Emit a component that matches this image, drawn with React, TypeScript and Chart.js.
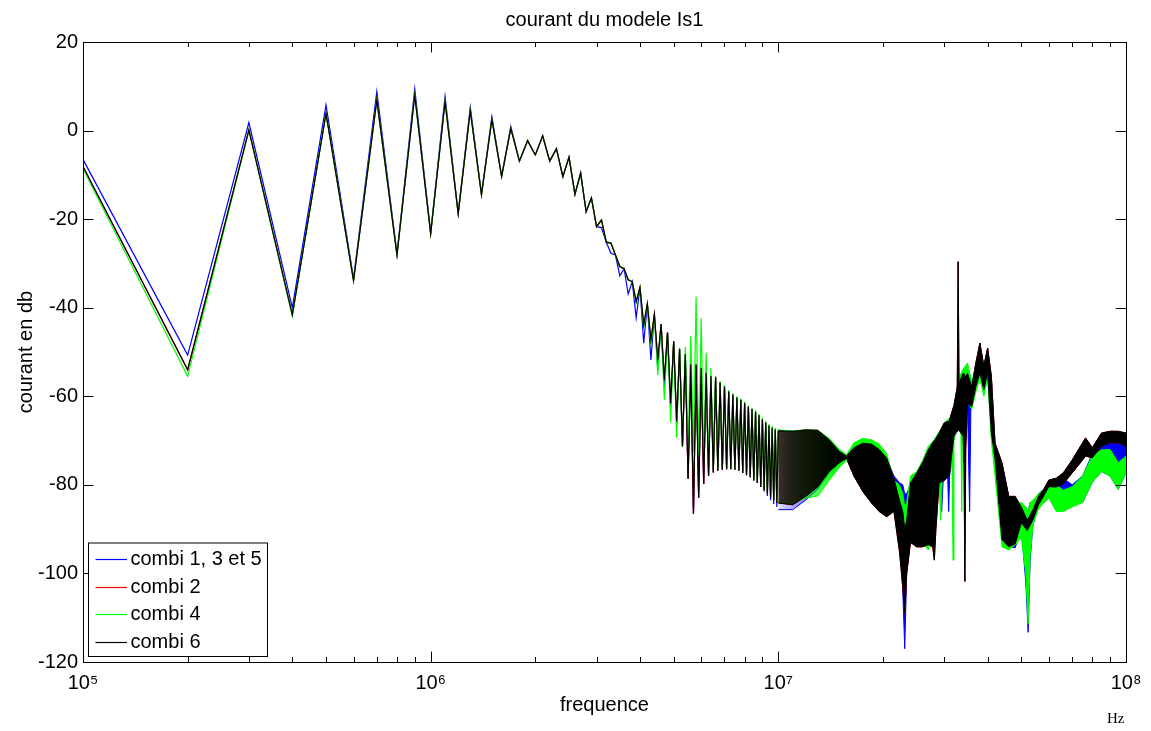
import React, { useEffect, useRef } from 'react';
import { Chart, registerables } from 'chart.js';

Chart.register(...registerables);

const FONT = '"Liberation Sans", Arial, Helvetica, sans-serif';

// 100 kHz measurement grid, 0.1 MHz .. 10 MHz (individually visible points)
const lowFreqHz = Array.from({ length: 100 }, (_, i) => (i + 1) * 1e5);

// combi 6 (black) – values in dB at 0.1, 0.2, ... 10 MHz
const combi6Low = [
  -8.1, -54.0, 0.1, -41.6, 3.9, -33.9, 6.9, -28.1, 8.0, -23.3,
  6.5, -18.8, 4.5, -14.5, 2.5, -10.4, 0.5, -6.9, -2.3, -5.5,
  -1.2, -6.9, -4.1, -10.4, -6.0, -14.4, -9.6, -18.3, -15.2, -21.7,
  -20.2, -25.2, -25.4, -28.1, -30.7, -31.2, -33.7, -34.1, -38.6, -35.4,
  -43.9, -39.1, -47.3, -41.5, -51.8, -43.7, -56.3, -45.6, -61.6, -47.6,
  -65.7, -49.3, -71.3, -50.5, -78.6, -52.8, -86.5, -52.8, -82.9, -53.6,
  -79.8, -54.7, -78.0, -55.5, -77.2, -55.7, -76.8, -56.9, -76.6, -57.8,
  -76.5, -58.9, -76.5, -59.6, -76.6, -60.3, -76.8, -60.8, -77.3, -61.5,
  -77.8, -62.3, -78.3, -62.9, -79.0, -63.5, -79.6, -64.3, -80.5, -65.2,
  -81.2, -65.9, -82.0, -66.6, -82.8, -67.1, -83.5, -67.5, -84.1, -67.8,
];

// combi 2 (red) – coincides with combi 6 everywhere in the picture
const combi2Low = [
  -8.1, -54.0, 0.1, -41.6, 3.9, -33.9, 6.9, -28.1, 8.0, -23.3,
  6.5, -18.8, 4.5, -14.5, 2.5, -10.4, 0.5, -6.9, -2.3, -5.5,
  -1.2, -6.9, -4.1, -10.4, -6.0, -14.4, -9.6, -18.3, -15.2, -21.7,
  -20.2, -25.2, -25.4, -28.1, -30.7, -31.2, -33.7, -34.1, -38.6, -35.4,
  -43.9, -39.1, -47.3, -41.5, -51.8, -43.7, -56.3, -45.6, -61.6, -47.6,
  -65.7, -49.3, -71.3, -50.5, -78.6, -52.8, -86.5, -52.8, -82.9, -53.6,
  -79.8, -54.7, -78.0, -55.5, -77.2, -55.7, -76.8, -56.9, -76.6, -57.8,
  -76.5, -58.9, -76.5, -59.6, -76.6, -60.3, -76.8, -60.8, -77.3, -61.5,
  -77.8, -62.3, -78.3, -62.9, -79.0, -63.5, -79.6, -64.3, -80.5, -65.2,
  -81.2, -65.9, -82.0, -66.6, -82.8, -67.1, -83.5, -67.5, -84.1, -67.8,
];

// combi 4 (green)
const combi4Low = [
  -8.6, -55.5, 0.1, -41.9, 3.9, -33.9, 6.9, -28.1, 8.0, -23.3,
  6.5, -18.8, 4.5, -14.5, 2.5, -10.4, 0.5, -6.9, -2.3, -5.5,
  -1.2, -6.9, -4.1, -10.4, -6.0, -14.4, -9.6, -18.3, -15.2, -21.7,
  -20.2, -25.2, -25.4, -28.1, -30.7, -31.2, -33.7, -34.1, -38.9, -35.4,
  -44.6, -39.1, -48.5, -41.5, -55.2, -43.7, -60.8, -45.6, -65.9, -47.6,
  -69.4, -49.0, -71.5, -48.8, -71.5, -46.4, -72.5, -37.5, -73.5, -42.3,
  -75.0, -50.2, -76.0, -53.6, -76.5, -55.4, -76.6, -56.6, -76.4, -57.5,
  -76.3, -58.6, -76.3, -59.3, -76.4, -60.0, -76.6, -60.5, -77.1, -61.2,
  -77.6, -62.0, -78.1, -62.6, -78.8, -63.1, -79.4, -63.9, -80.3, -64.8,
  -81.0, -65.5, -81.8, -66.2, -82.6, -66.7, -83.3, -67.1, -83.9, -67.4,
];

// combi 1, 3 et 5 (blue)
const combi135Low = [
  -6.5, -50.7, 1.8, -40.0, 5.8, -33.4, 8.8, -27.8, 9.4, -23.0,
  7.7, -18.6, 5.3, -14.3, 3.1, -10.2, 0.9, -6.9, -2.3, -5.5,
  -1.2, -6.9, -4.1, -10.4, -6.0, -14.4, -9.6, -18.3, -15.2, -21.7,
  -21.9, -25.2, -27.7, -28.1, -32.8, -31.2, -36.9, -34.1, -42.3, -35.4,
  -48.0, -39.1, -51.8, -41.5, -54.0, -43.7, -58.0, -45.6, -62.5, -47.6,
  -66.5, -49.3, -71.3, -50.5, -78.6, -52.8, -86.5, -52.8, -82.9, -53.6,
  -79.8, -54.7, -78.0, -55.5, -77.2, -55.7, -76.8, -56.9, -76.6, -57.8,
  -76.5, -58.9, -76.5, -59.6, -76.6, -60.3, -76.8, -60.8, -77.3, -61.5,
  -77.8, -62.3, -78.3, -62.9, -79.0, -63.5, -79.6, -64.3, -80.5, -65.2,
  -81.5, -65.9, -82.5, -66.6, -83.5, -67.1, -84.3, -67.5, -85.0, -67.8,
];

// Above 10 MHz the traces oscillate too densely to separate: upper / lower envelopes (MHz, dB)
const bandFreq6 = [
  10, 11, 12, 13, 14, 15, 15.7, 16.5, 17.5, 18.5, 19.5, 20.5, 21.5, 22.3, 22.8, 23.1, 23.4,
  24, 25, 26, 27, 27.8, 28.1, 28.4, 29, 30, 31, 32, 32.7, 32.9, 33.1, 34, 34.2, 34.4, 34.6,
  35, 36, 37, 38, 39, 40, 41, 42, 44, 46, 48, 50, 52, 54, 56, 58, 60, 63, 66, 70, 75, 76.5,
  80, 85, 90, 95, 100,
];
const combi6BandHi = [
  -67.8, -67.9, -67.6, -67.7, -69.8, -72.5, -73.5, -71.6, -70.6, -70.8, -72.0, -74.0, -78.5,
  -83.5, -86.0, -90.0, -88.0, -79.6, -77.3, -75.0, -72.1, -70.5, -70.0, -69.5, -68.3, -66.0,
  -65.6, -62.0, -58.0, -29.6, -57.0, -54.8, -55.0, -55.5, -55.5, -54.8, -57.8, -52.5, -48.0,
  -53.2, -49.1, -55.6, -70.6, -75.1, -82.6, -82.6, -85.0, -88.0, -85.6, -82.6, -81.0, -78.9,
  -78.5, -77.3, -74.4, -70.5, -69.4, -71.6, -68.3, -67.9, -67.9, -68.3,
];
const combi6BandLo = [
  -84.1, -84.5, -82.6, -80.4, -77.0, -75.0, -74.0, -78.0, -81.5, -84.0, -86.0, -87.2, -86.0,
  -95.0, -103.0, -109.0, -100.0, -93.0, -94.0, -94.0, -93.5, -94.0, -97.0, -90.0, -79.6, -79.0,
  -78.0, -69.0, -67.6, -67.6, -67.6, -69.0, -75.0, -101.8, -72.0, -61.6, -62.3, -57.8, -54.7,
  -58.5, -54.7, -68.3, -74.0, -92.4, -94.0, -93.3, -88.6, -90.3, -87.9, -84.5, -82.5, -80.4,
  -80.5, -79.8, -77.3, -74.4, -73.5, -73.9, -71.3, -70.5, -70.5, -71.3,
];

const bandFreq4 = [
  10, 11, 12, 13, 14, 15, 15.7, 16.5, 17.5, 18.5, 19.5, 20.5, 21.5, 22.3, 22.8, 23.1, 23.4,
  24, 25, 26, 27, 28, 29, 29.3, 29.6, 30, 31, 31.6, 31.8, 32.0, 33, 33.5, 33.7, 33.9,
  35, 36, 37, 38, 39, 40, 41, 42, 44, 46, 48, 50, 51.5, 52.3, 53, 54, 56, 58, 60,
  63, 66, 70, 75, 80, 85, 90, 95, 100,
];
const combi4BandHi = [
  -67.6, -67.8, -67.6, -67.7, -69.5, -72.0, -73.2, -70.5, -69.5, -69.8, -70.8, -73.0, -79.0,
  -80.0, -82.0, -85.0, -84.0, -78.0, -77.0, -74.5, -71.3, -70.0, -68.0, -67.5, -67.0, -66.0,
  -65.0, -64.5, -64.5, -64.0, -56.0, -55.0, -54.5, -54.0, -52.5, -57.0, -53.0, -49.0, -53.5,
  -50.0, -57.0, -72.0, -77.0, -83.0, -84.0, -84.0, -85.0, -86.0, -84.0, -83.5, -82.0, -81.0,
  -80.0, -80.0, -81.2, -80.4, -78.0, -73.5, -72.1, -72.0, -75.0, -73.5,
];
const combi4BandLo = [
  -84.0, -84.0, -83.0, -82.5, -79.0, -76.0, -74.5, -76.5, -79.5, -82.5, -85.3, -86.5, -84.5,
  -88.0, -97.0, -104.0, -96.0, -91.0, -92.0, -93.0, -94.7, -88.0, -79.0, -88.0, -79.0, -78.0,
  -76.0, -76.0, -97.0, -70.0, -66.0, -68.0, -86.0, -66.0, -61.0, -63.0, -59.0, -56.0, -60.0,
  -56.0, -70.0, -78.0, -94.0, -94.7, -93.5, -92.0, -100.0, -111.4, -96.0, -89.0, -85.5, -84.0,
  -83.0, -86.0, -86.0, -85.0, -84.0, -79.4, -77.0, -78.0, -81.0, -77.3,
];

const bandFreq135 = [
  10, 11, 12, 13, 14, 15, 15.7, 16.5, 17.5, 18.5, 19.5, 20.5, 21.5, 22.3, 22.8, 23.1, 23.4,
  24, 25, 26, 27, 28, 29, 29.5, 29.8, 30, 30.7, 30.9, 31.1, 32, 33, 34, 35, 35.5, 35.8,
  36, 37, 38, 39, 40, 41, 42, 44, 46, 48, 50, 51.5, 52.3, 53, 54, 56, 58, 60,
  63, 66, 70, 75, 80, 85, 90, 95, 100,
];
const combi135BandHi = [
  -67.8, -67.9, -67.6, -67.7, -69.8, -72.5, -73.5, -71.6, -70.6, -70.8, -72.0, -74.0, -78.0,
  -79.5, -80.0, -82.0, -82.0, -80.0, -77.5, -75.0, -72.0, -70.0, -68.3, -67.5, -67.0, -66.0,
  -66.0, -66.0, -65.8, -63.0, -55.5, -54.8, -54.0, -55.0, -56.0, -57.8, -52.5, -48.0, -53.2,
  -49.1, -55.6, -70.6, -75.1, -82.6, -84.0, -85.0, -85.0, -86.0, -84.0, -85.0, -82.0, -81.0,
  -79.5, -79.0, -78.5, -80.0, -78.0, -73.0, -70.5, -70.5, -70.0, -71.0,
];
const combi135BandLo = [
  -85.6, -85.6, -83.4, -81.0, -77.5, -75.5, -74.0, -78.0, -81.5, -84.0, -86.0, -87.0, -85.0,
  -90.0, -104.0, -117.0, -100.0, -92.0, -93.0, -93.5, -93.5, -88.0, -79.6, -86.0, -79.0, -79.0,
  -78.0, -86.0, -78.0, -69.0, -67.6, -69.0, -62.0, -86.0, -62.0, -62.3, -58.0, -55.0, -58.5,
  -55.0, -68.3, -74.0, -92.4, -94.0, -94.2, -90.0, -102.0, -113.3, -97.0, -89.0, -85.0, -84.0,
  -83.0, -85.0, -85.0, -84.0, -84.0, -79.4, -77.0, -78.0, -81.0, -77.3,
];

const xTickValues = [1e5, 1e6, 1e7, 1e8];
const xTickLabels = ['10\u2075', '10\u2076', '10\u2077', '10\u2078'];
const xMinorMultipliers = [2, 3, 4, 5, 6, 7, 8, 9];
const yMin = -120;
const yMax = 20;
const yStep = 20;

const legendLabels = ['combi 1, 3 et 5', 'combi 2', 'combi 4', 'combi 6'];
const legendColors = ['#0000ff', '#ff0000', '#00ff00', '#000000'];
const legendRgb = ['0,0,255', '255,0,0', '0,255,0', '0,0,0'];
// band fill opacity where the individual oscillations are still resolvable (10 MHz -> 15 MHz)
const bandFadeHz = [10e6, 15e6];
const bandStartAlpha = [0.12, 0.3, 0.12, 0.72];

const MAJOR_TICK = 10.4;
const MINOR_TICK = 5;

const axesPlugin = {
  id: 'matlabAxes',
  afterDatasetsDraw(chart: any) {
    const { ctx, chartArea: a } = chart;
    const xs = chart.scales.x;
    const ys = chart.scales.y;
    ctx.save();
    ctx.strokeStyle = '#000';
    ctx.lineWidth = 1;
    ctx.beginPath();
    ys.ticks.forEach((t: any) => {
      const py = Math.round(ys.getPixelForValue(t.value)) + 0.5;
      ctx.moveTo(a.left, py);
      ctx.lineTo(a.left + MAJOR_TICK, py);
      ctx.moveTo(a.right, py);
      ctx.lineTo(a.right - MAJOR_TICK, py);
    });
    xTickValues.forEach((dec) => {
      const marks = [{ v: dec, len: MAJOR_TICK }].concat(
        dec < xTickValues[xTickValues.length - 1]
          ? xMinorMultipliers.map((m) => ({ v: dec * m, len: MINOR_TICK }))
          : []
      );
      marks.forEach(({ v, len }) => {
        const px = Math.round(xs.getPixelForValue(v)) + 0.5;
        ctx.moveTo(px, a.bottom);
        ctx.lineTo(px, a.bottom - len);
        ctx.moveTo(px, a.top);
        ctx.lineTo(px, a.top + len);
      });
    });
    ctx.stroke();
    ctx.strokeRect(
      Math.round(a.left) + 0.5,
      Math.round(a.top) + 0.5,
      Math.round(a.right - a.left),
      Math.round(a.bottom - a.top)
    );
    ctx.restore();
  },
};

const legendPlugin = {
  id: 'matlabLegend',
  afterDraw(chart: any) {
    const { ctx, chartArea: a } = chart;
    ctx.save();
    ctx.font = `20px ${FONT}`;
    const maxW = Math.max(...legendLabels.map((l) => ctx.measureText(l).width));
    const boxL = Math.round(a.left) + 5.5;
    const boxB = Math.round(a.bottom) - 5.5;
    const rowH = 27.5;
    const boxH = 16 + rowH * (legendLabels.length - 1) + 15;
    const boxT = boxB - boxH;
    const textX = boxL + 42;
    const boxW = textX + maxW + 6 - boxL;
    ctx.fillStyle = '#fff';
    ctx.fillRect(boxL, boxT, boxW, boxH);
    ctx.strokeStyle = '#000';
    ctx.lineWidth = 1;
    ctx.strokeRect(boxL, boxT, Math.round(boxW), boxH);
    legendLabels.forEach((label, i) => {
      const cy = Math.round(boxT + 16 + i * rowH) + 0.5;
      ctx.strokeStyle = legendColors[i];
      ctx.lineWidth = 1.2;
      ctx.beginPath();
      ctx.moveTo(boxL + 7, cy);
      ctx.lineTo(boxL + 38.5, cy);
      ctx.stroke();
      ctx.fillStyle = '#000';
      ctx.textBaseline = 'middle';
      ctx.textAlign = 'left';
      ctx.fillText(label, textX, cy);
    });
    ctx.restore();
  },
};

type SeriesDef = {
  label: string;
  color: string;
  rgb: string;
  startAlpha: number;
  low: number[];
  bandF: number[];
  hi: number[];
  lo: number[];
};

function bandFill(rgb: string, startAlpha: number) {
  return (c: any) => {
    const chart = c.chart;
    const xs = chart.scales && chart.scales.x;
    if (!chart.chartArea || !xs) return `rgba(${rgb},1)`;
    const x0 = xs.getPixelForValue(bandFadeHz[0]);
    const x1 = xs.getPixelForValue(bandFadeHz[1]);
    const g = chart.ctx.createLinearGradient(x0, 0, x1, 0);
    g.addColorStop(0, `rgba(${rgb},${startAlpha})`);
    g.addColorStop(1, `rgba(${rgb},1)`);
    return g;
  };
}

function buildDatasets() {
  // drawn top-most first: combi 6, combi 4, combi 2, combi 1/3/5
  const defs: SeriesDef[] = [
    { label: legendLabels[3], color: legendColors[3], rgb: legendRgb[3], startAlpha: bandStartAlpha[3], low: combi6Low, bandF: bandFreq6, hi: combi6BandHi, lo: combi6BandLo },
    { label: legendLabels[2], color: legendColors[2], rgb: legendRgb[2], startAlpha: bandStartAlpha[2], low: combi4Low, bandF: bandFreq4, hi: combi4BandHi, lo: combi4BandLo },
    { label: legendLabels[1], color: legendColors[1], rgb: legendRgb[1], startAlpha: bandStartAlpha[1], low: combi2Low, bandF: bandFreq6, hi: combi6BandHi, lo: combi6BandLo },
    { label: legendLabels[0], color: legendColors[0], rgb: legendRgb[0], startAlpha: bandStartAlpha[0], low: combi135Low, bandF: bandFreq135, hi: combi135BandHi, lo: combi135BandLo },
  ];
  const datasets: any[] = [];
  defs.forEach((s, order) => {
    const common = {
      borderColor: s.color,
      pointRadius: 0,
      tension: 0,
      order,
    };
    datasets.push({
      ...common,
      borderWidth: 1.2,
      label: s.label,
      data: lowFreqHz.map((f, i) => ({ x: f, y: s.low[i] })),
      fill: false,
    });
    datasets.push({
      ...common,
      borderWidth: 1,
      label: s.label + ' (haut)',
      data: s.bandF.map((f, i) => ({ x: f * 1e6, y: s.hi[i] })),
      fill: false,
    });
    datasets.push({
      ...common,
      borderWidth: 1,
      label: s.label + ' (bas)',
      data: s.bandF.map((f, i) => ({ x: f * 1e6, y: s.lo[i] })),
      fill: '-1',
      backgroundColor: bandFill(s.rgb, s.startAlpha),
    });
  });
  return datasets;
}

export default function App() {
  const canvasRef = useRef<HTMLCanvasElement | null>(null);

  useEffect(() => {
    const canvas = canvasRef.current;
    if (!canvas) return;
    const font = { family: FONT, size: 20, weight: 'normal' as const };
    const chart = new Chart(canvas, {
      type: 'line',
      data: { datasets: buildDatasets() },
      options: {
        responsive: false,
        animation: false,
        devicePixelRatio: 1,
        parsing: false,
        normalized: true,
        layout: { padding: { left: 0, right: 25, top: 0, bottom: 0 } },
        plugins: {
          legend: { display: false },
          tooltip: { enabled: false },
          title: {
            display: true,
            text: 'courant du modele Is1',
            fullSize: false,
            color: '#000',
            font,
            padding: { top: 8, bottom: 10 },
          },
        },
        scales: {
          x: {
            type: 'logarithmic',
            min: xTickValues[0],
            max: xTickValues[xTickValues.length - 1],
            grid: { display: false, drawTicks: false },
            border: { display: false },
            afterBuildTicks: (scale: any) => {
              scale.ticks = xTickValues.map((v) => ({ value: v }));
            },
            afterFit: (scale: any) => {
              scale.height = 69;
            },
            ticks: {
              autoSkip: false,
              maxRotation: 0,
              minRotation: 0,
              padding: 9,
              color: '#000',
              font,
              callback: (_v: any, i: number) => xTickLabels[i],
            },
            title: {
              display: true,
              text: 'frequence',
              color: '#000',
              font,
              padding: { top: 0, bottom: 14 },
            },
          },
          y: {
            type: 'linear',
            min: yMin,
            max: yMax,
            grid: { display: false, drawTicks: false },
            border: { display: false },
            afterFit: (scale: any) => {
              scale.width = 83;
            },
            ticks: {
              stepSize: yStep,
              padding: 5,
              color: '#000',
              font,
            },
            title: {
              display: true,
              text: 'courant en db',
              color: '#000',
              font,
              padding: { top: 14, bottom: 0 },
            },
          },
        },
      } as any,
      plugins: [axesPlugin, legendPlugin],
    });
    return () => chart.destroy();
  }, []);

  return (
    <div
      style={{
        position: 'fixed',
        left: 0,
        top: 0,
        width: 1151,
        height: 731,
        background: '#fff',
      }}
    >
      <canvas ref={canvasRef} width={1151} height={731} style={{ display: 'block' }} />
      <div
        style={{
          position: 'absolute',
          left: 1107,
          top: 710,
          font: '15px "Liberation Serif", "Times New Roman", serif',
          lineHeight: '16px',
          color: '#000',
        }}
      >
        Hz
      </div>
    </div>
  );
}
